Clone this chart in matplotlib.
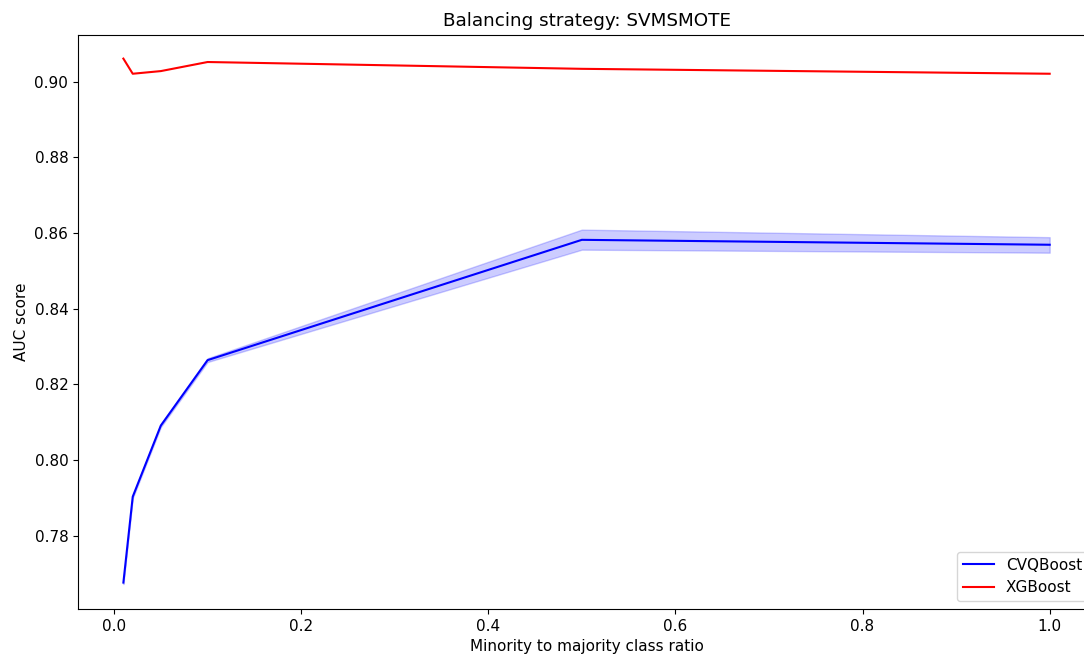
import matplotlib
matplotlib.use("Agg")
import matplotlib.pyplot as plt

ratios = [0.01, 0.02, 0.05, 0.1, 0.5, 1.0]

cvq_mean = [0.7676, 0.7903, 0.8091, 0.8264, 0.8582, 0.8569]
cvq_lower = [0.7672, 0.7899, 0.8087, 0.8259, 0.8556, 0.8548]
cvq_upper = [0.7680, 0.7907, 0.8095, 0.8269, 0.8609, 0.8589]

xgb_mean = [0.9061, 0.9021, 0.9028, 0.9052, 0.9034, 0.9021]

plt.rcParams["font.size"] = 11

fig = plt.figure(figsize=(10.84, 6.61), dpi=100)
# axes run past the right edge, as in the cropped original
ax = fig.add_axes([78 / 1084, 52 / 661, 1018 / 1084, 574.3 / 661])

ax.plot(ratios, cvq_mean, color="blue", label="CVQBoost")
ax.fill_between(ratios, cvq_lower, cvq_upper, color="blue", alpha=0.2)
ax.plot(ratios, xgb_mean, color="red", label="XGBoost")

ax.set_xlim(-0.0385, 1.0495)
ax.set_ylim(0.76062, 0.91242)
ax.set_title("Balancing strategy: SVMSMOTE")
ax.set_xlabel("Minority to majority class ratio")
ax.set_ylabel("AUC score")
ax.legend(loc="lower right")

fig.savefig("out.png", dpi=100)
